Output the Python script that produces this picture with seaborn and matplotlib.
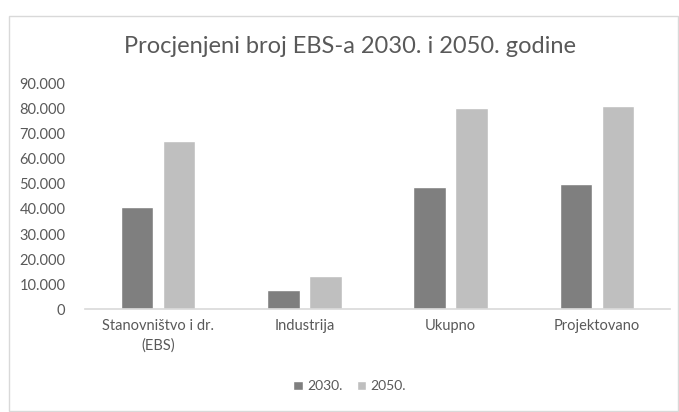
import pandas as pd
import matplotlib.pyplot as plt
import matplotlib.ticker as mticker
from matplotlib.patches import Rectangle
import seaborn as sns

categories = ['Stanovništvo i dr.\n(EBS)', 'Industrija', 'Ukupno', 'Projektovano']
years = ['2030.', '2050.']
values_2030 = [40700, 7800, 48800, 49800]
values_2050 = [66900, 13300, 80200, 80900]

df = pd.DataFrame({
    'kategorija': categories * 2,
    'godina': [years[0]] * 4 + [years[1]] * 4,
    'broj': values_2030 + values_2050,
})

sns.set_style('white')
plt.rcParams['font.family'] = ['Lato', 'DejaVu Sans']

text_col = '#595959'
fig = plt.figure(figsize=(6.79, 4.12), dpi=100)
ax = fig.add_axes([0.125, 0.249, 0.862, 0.549])

sns.barplot(data=df, x='kategorija', y='broj', hue='godina',
            palette=['#7f7f7f', '#bfbfbf'], width=0.576, gap=0.226,
            saturation=1, ax=ax)

ax.set_ylim(0, 90000)
ax.set_xlim(-0.5, 3.5)
ax.yaxis.set_major_locator(mticker.MultipleLocator(10000))
ax.yaxis.set_major_formatter(mticker.FuncFormatter(
    lambda v, p: f'{int(v):,}'.replace(',', '.')))
ax.set_xlabel('')
ax.set_ylabel('')
for s in ['top', 'right', 'left']:
    ax.spines[s].set_visible(False)
ax.spines['bottom'].set_color('#d9d9d9')
ax.spines['bottom'].set_linewidth(1.2)
ax.tick_params(axis='both', length=0, colors=text_col, labelsize=10.5)
ax.tick_params(axis='y', pad=14)
ax.tick_params(axis='x', pad=7)
for lbl in ax.get_xticklabels():
    lbl.set_multialignment('center')
    lbl.set_linespacing(1.5)

ax.legend_.remove()
handles, labels = ax.get_legend_handles_labels()
fig.legend(handles, labels, loc='center', bbox_to_anchor=(0.515, 0.062),
           ncol=2, frameon=False, fontsize=10, labelcolor=text_col,
           handlelength=0.7, handleheight=0.7, handletextpad=0.3,
           columnspacing=1.0)

fig.text(0.515, 0.887, 'Procjenjeni broj EBS-a 2030. i 2050. godine',
         ha='center', va='center', fontsize=17, color=text_col)

fig.patches.append(Rectangle((9 / 679, 0.002), 669 / 679, 1 - 16 / 412 - 0.002,
                             transform=fig.transFigure, fill=False,
                             edgecolor='#d9d9d9', linewidth=1))

fig.savefig('out.png', dpi=100)
